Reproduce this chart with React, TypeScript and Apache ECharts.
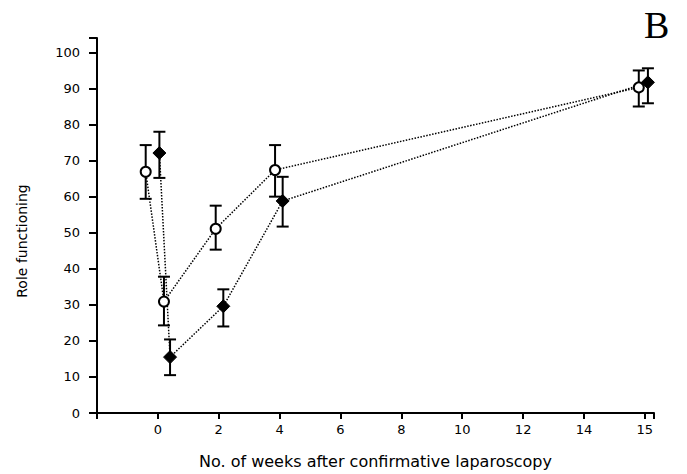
import React, { useEffect, useRef } from "react";
import * as echarts from "echarts";

// Open symbol series (x position in weeks, mean, lower, upper)
const openX = [-0.4, 0.2, 1.9, 3.85, 15.8];
const openY = [66.9, 30.9, 51.1, 67.4, 90.3];
const openLo = [59.4, 24.3, 45.3, 60.0, 85.0];
const openHi = [74.3, 37.8, 57.5, 74.3, 95.0];

// Filled symbol series
const fillX = [0.05, 0.4, 2.15, 4.1, 16.1];
const fillY = [72.1, 15.5, 29.6, 58.8, 91.7];
const fillLo = [65.2, 10.5, 24.0, 51.7, 85.9];
const fillHi = [78.0, 20.4, 34.3, 65.5, 95.6];

// Axis tick labels (position 16 on the broken axis is labelled 15)
const xTickLabels: Record<string, string> = {
  "0": "0", "2": "2", "4": "4", "6": "6", "8": "8",
  "10": "10", "12": "12", "14": "14", "16": "15",
};

const FONT = "DejaVu Sans";

function errorSeries(xs: number[], lo: number[], hi: number[]) {
  return {
    type: "custom",
    data: xs.map((x, i) => [x, lo[i], hi[i]]),
    encode: { x: 0, y: [1, 2] },
    z: 1,
    renderItem: (params: any, api: any) => {
      const x = api.value(0);
      const pLo = api.coord([x, api.value(1)]);
      const pHi = api.coord([x, api.value(2)]);
      const hw = 6;
      const style = { stroke: "#000", lineWidth: 2 };
      return {
        type: "group",
        children: [
          { type: "line", shape: { x1: pLo[0], y1: pLo[1], x2: pHi[0], y2: pHi[1] }, style },
          { type: "line", shape: { x1: pLo[0] - hw, y1: pLo[1], x2: pLo[0] + hw, y2: pLo[1] }, style },
          { type: "line", shape: { x1: pHi[0] - hw, y1: pHi[1], x2: pHi[0] + hw, y2: pHi[1] }, style },
        ],
      };
    },
  };
}

export default function App() {
  const ref = useRef<HTMLDivElement>(null);
  useEffect(() => {
    if (!ref.current) return;
    const chart = echarts.init(ref.current, null, { renderer: "svg" });
    chart.setOption({
      animation: false,
      backgroundColor: "#fff",
      grid: { left: 97, right: 33, top: 38, bottom: 60 },
      graphic: [
        {
          type: "text",
          left: 644,
          top: 6,
          style: { text: "B", font: "38px 'Liberation Serif'", fill: "#000" },
        },
        {
          type: "text",
          x: 22,
          y: 241,
          rotation: Math.PI / 2,
          style: {
            text: "Role functioning",
            font: "14px 'DejaVu Sans'",
            fill: "#000",
            align: "center",
            verticalAlign: "middle",
          },
        },
      ],
      xAxis: {
        type: "value",
        min: -2,
        max: 16.3,
        interval: 2,
        name: "No. of weeks after confirmative laparoscopy",
        nameLocation: "middle",
        nameGap: 40,
        nameTextStyle: { fontFamily: FONT, fontSize: 16, color: "#000" },
        splitLine: { show: false },
        axisLine: { show: true, onZero: false, lineStyle: { color: "#000", width: 2 } },
        axisTick: { show: true, length: 6, lineStyle: { color: "#000", width: 2 } },
        axisLabel: {
          fontFamily: FONT,
          fontSize: 13,
          color: "#000",
          margin: 10,
          formatter: (v: number) => xTickLabels[String(v)] ?? "",
        },
      },
      yAxis: {
        type: "value",
        min: 0,
        max: 104,
        interval: 10,
        splitLine: { show: false },
        axisLine: { show: true, onZero: false, lineStyle: { color: "#000", width: 2 } },
        axisTick: { show: true, length: 8, lineStyle: { color: "#000", width: 2 } },
        axisLabel: {
          fontFamily: FONT,
          fontSize: 13,
          color: "#000",
          margin: 17,
          formatter: (v: number) => (v <= 100 ? String(v) : ""),
        },
      },
      series: [
        errorSeries(openX, openLo, openHi),
        errorSeries(fillX, fillLo, fillHi),
        {
          type: "line",
          data: openX.map((x, i) => [x, openY[i]]),
          symbol: "circle",
          symbolSize: 10,
          itemStyle: { color: "#fff", borderColor: "#000", borderWidth: 2 },
          lineStyle: { color: "#000", width: 1.5, type: "dotted" },
          z: 3,
        },
        {
          type: "line",
          data: fillX.map((x, i) => [x, fillY[i]]),
          symbol: "diamond",
          symbolSize: 13,
          itemStyle: { color: "#000", borderColor: "#000" },
          lineStyle: { color: "#000", width: 1.5, type: "dotted" },
          z: 3,
        },
      ],
    });
    return () => chart.dispose();
  }, []);
  return <div ref={ref} style={{ width: 687, height: 474, position: "absolute", left: 0, top: 0 }} />;
}
